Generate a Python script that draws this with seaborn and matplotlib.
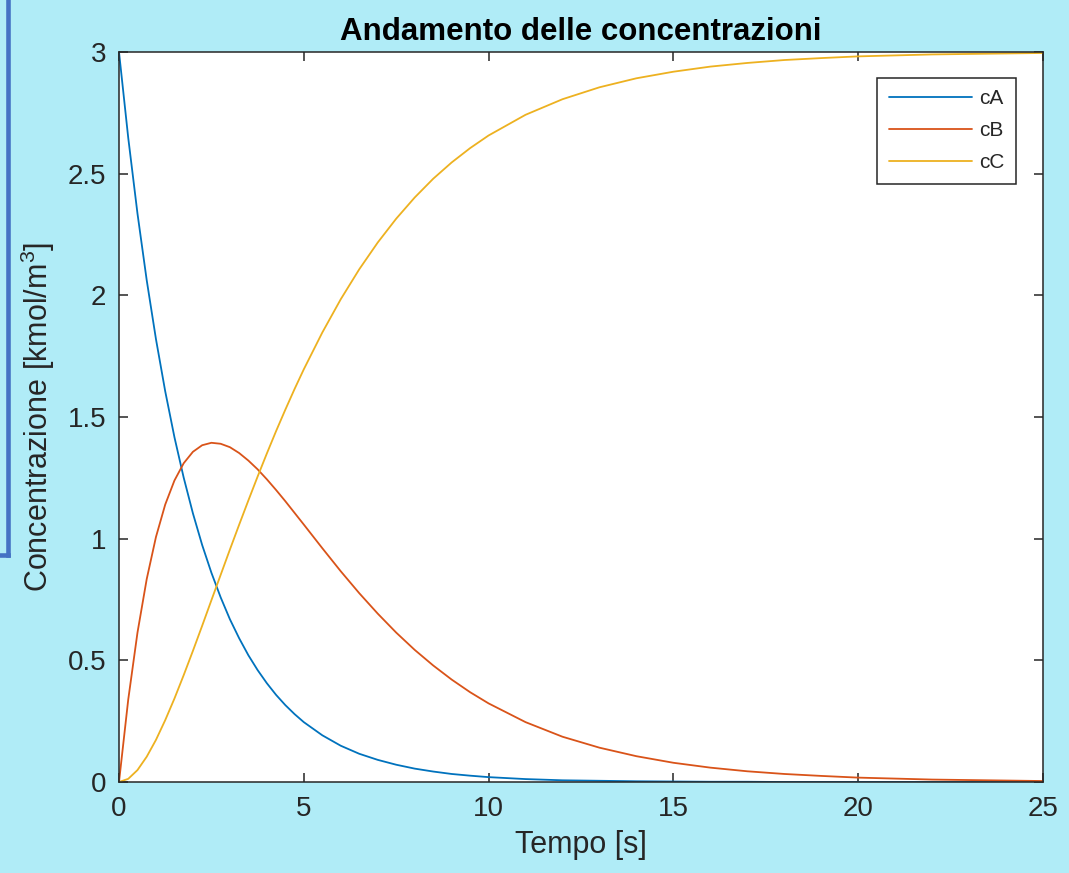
import numpy as np
import pandas as pd
import matplotlib
matplotlib.use("Agg")
import matplotlib.pyplot as plt
from matplotlib.lines import Line2D
import seaborn as sns

# ---- data ----
tempo = [0, 0.25, 0.5, 0.75, 1, 1.25, 1.5, 1.75, 2, 2.25, 2.5, 2.75, 3, 3.25,
         3.5, 3.75, 4, 4.25, 4.5, 4.75, 5, 5.5, 6, 6.5, 7, 7.5, 8, 8.5, 9,
         9.5, 10, 11, 12, 13, 14, 15, 16, 17, 18, 19, 20, 21, 22, 23, 24, 25]
cA = [3.000, 2.647, 2.336, 2.062, 1.820, 1.606, 1.417, 1.251, 1.104, 0.974,
      0.860, 0.759, 0.669, 0.591, 0.521, 0.460, 0.406, 0.358, 0.316, 0.279,
      0.246, 0.192, 0.149, 0.116, 0.091, 0.071, 0.055, 0.043, 0.033, 0.026,
      0.020, 0.012, 0.007, 0.005, 0.003, 0.002, 0.001, 0.001, 0.000, 0.000,
      0.000, 0.000, 0.000, 0.000, 0.000, 0.000]
cB = [0.000, 0.339, 0.614, 0.834, 1.007, 1.140, 1.239, 1.310, 1.357, 1.384,
      1.394, 1.390, 1.376, 1.352, 1.321, 1.285, 1.244, 1.200, 1.154, 1.106,
      1.058, 0.961, 0.866, 0.776, 0.692, 0.614, 0.543, 0.479, 0.421, 0.369,
      0.323, 0.246, 0.186, 0.141, 0.106, 0.079, 0.059, 0.044, 0.033, 0.025,
      0.018, 0.014, 0.010, 0.008, 0.006, 0.004]
cC = [0.000, 0.013, 0.049, 0.104, 0.173, 0.254, 0.343, 0.439, 0.539, 0.642,
      0.747, 0.851, 0.955, 1.057, 1.157, 1.255, 1.350, 1.442, 1.530, 1.615,
      1.696, 1.847, 1.984, 2.107, 2.217, 2.315, 2.402, 2.479, 2.546, 2.605,
      2.657, 2.742, 2.806, 2.855, 2.892, 2.919, 2.940, 2.955, 2.967, 2.975,
      2.982, 2.986, 2.990, 2.992, 2.994, 2.996]
series_names = ["cA", "cB", "cC"]
x_ticks = [0, 5, 10, 15, 20, 25]
y_ticks = [0, 0.5, 1, 1.5, 2, 2.5, 3]
y_tick_labels = ["0", "0.5", "1", "1.5", "2", "2.5", "3"]
title_text = "Andamento delle concentrazioni"
xlabel_text = "Tempo [s]"
ylabel_text = r"Concentrazione [kmol/m$^3$]"

df = pd.DataFrame({
    "t": tempo * 3,
    "c": cA + cB + cC,
    "serie": [n for n in series_names for _ in tempo],
})

# ---- style ----
sns.set_style("ticks")
plt.rcParams["font.family"] = ["Liberation Sans", "DejaVu Sans"]
plt.rcParams["mathtext.default"] = "regular"

bg = "#B0ECF7"
dark = "#262626"
palette = ["#0072BD", "#D95319", "#EDB120"]

fig = plt.figure(figsize=(10.69, 8.73), dpi=100, facecolor=bg)
ax = fig.add_axes([119 / 1069, 1 - 782 / 873, (1043 - 119) / 1069, (782 - 52) / 873])
ax.set_facecolor("white")

sns.lineplot(data=df, x="t", y="c", hue="serie", palette=palette,
             linewidth=1.3, ax=ax, legend=True)

ax.set_xlim(0, 25)
ax.set_ylim(0, 3)
ax.set_xticks(x_ticks)
ax.set_xticklabels([str(v) for v in x_ticks])
ax.set_yticks(y_ticks)
ax.set_yticklabels(y_tick_labels)

for s in ax.spines.values():
    s.set_visible(True)
    s.set_color(dark)
    s.set_linewidth(1.1)

ax.tick_params(axis="both", which="both", direction="in", length=6.5, width=1.1,
               color=dark, labelcolor=dark, labelsize=20,
               top=True, right=True)
ax.tick_params(axis="x", pad=10)
ax.tick_params(axis="y", pad=9)

ax.set_title(title_text, fontsize=22.5, fontweight="bold", color="black", pad=9)
ax.set_xlabel(xlabel_text, fontsize=22, color=dark, labelpad=6)
ax.set_ylabel(ylabel_text, fontsize=22, color=dark, labelpad=8)

handles, labels = ax.get_legend_handles_labels()
leg = ax.legend(handles, labels, loc="upper right",
                bbox_to_anchor=((1016 - 119) / (1043 - 119), (782 - 78) / (782 - 52)),
                borderaxespad=0, fontsize=15, frameon=True, fancybox=False,
                handlelength=4.0, handletextpad=0.35, labelspacing=0.62,
                borderpad=0.55)
leg.get_frame().set_edgecolor(dark)
leg.get_frame().set_linewidth(1.1)
leg.get_frame().set_facecolor("white")
leg.get_frame().set_alpha(1)
for txt in leg.get_texts():
    txt.set_color(dark)
for ln in leg.get_lines():
    ln.set_linewidth(1.3)

# blue decorative border at the left edge
fig.add_artist(Line2D([7.5 / 1069, 7.5 / 1069], [1.0, 1 - 555 / 873],
                      transform=fig.transFigure, color="#4472C4", linewidth=3.3,
                      solid_capstyle="projecting"))
fig.add_artist(Line2D([0, 7.5 / 1069], [1 - 555 / 873, 1 - 555 / 873],
                      transform=fig.transFigure, color="#4472C4", linewidth=3.3,
                      solid_capstyle="projecting"))

fig.savefig("out.png", dpi=100, facecolor=bg)
